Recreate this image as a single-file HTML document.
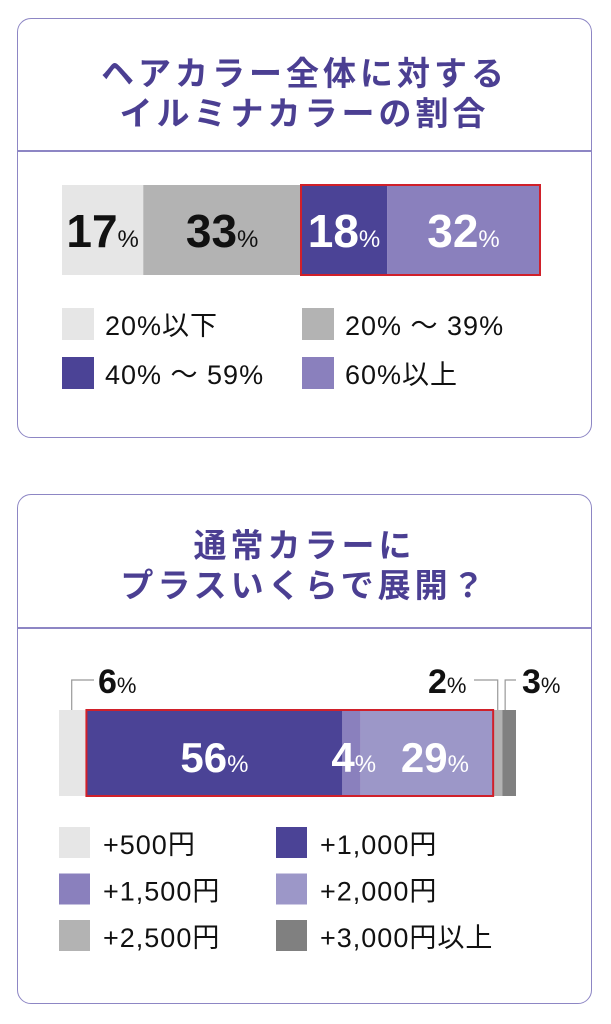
<!DOCTYPE html>
<html><head><meta charset="utf-8"><style>
body{margin:0;width:611px;height:1024px;background:#fff;font-family:"Liberation Sans","Noto Sans CJK JP",sans-serif;position:relative;overflow:hidden}
.card{position:absolute;left:17px;width:575px;border:1.5px solid #8d86c4;border-radius:14px;box-sizing:border-box}
.title{position:absolute;left:0;width:100%;text-align:center;color:#4b3f92;font-weight:bold;font-size:33px;letter-spacing:4px;line-height:40px;font-family:"Noto Sans CJK JP",sans-serif}
.div{position:absolute;left:0;width:100%;height:1.5px;background:#8d86c4}
svg{position:absolute;left:0;top:0}
</style></head><body>
<div class="card" style="top:18px;height:420px">
 <div class="title" style="top:32px">ヘアカラー全体に対する<br>イルミナカラーの割合</div>
 <div class="div" style="top:131px"></div>
</div>
<div class="card" style="top:494px;height:510px">
 <div class="title" style="top:28px">通常カラーに<br>プラスいくらで展開？</div>
 <div class="div" style="top:132px"></div>
</div>
<svg id="chart" width="611" height="1024"></svg>
<script>
const cats1=["20%以下","20% ～ 39%","40% ～ 59%","60%以上"];
const vals1=[17,33,18,32];
const colors1=["#e6e6e6","#b3b3b3","#4b4396","#8a80bd"];
const textCol1=["#111","#111","#fff","#fff"];
const cats2=["+500円","+1,000円","+1,500円","+2,000円","+2,500円","+3,000円以上"];
const vals2=[6,56,4,29,2,3];
const colors2=["#e6e6e6","#4b4396","#8a80bd","#9c97c8","#b3b3b3","#808080"];
const svg=document.getElementById('chart');
const NS="http://www.w3.org/2000/svg";
function mk(t,a,p){const e=document.createElementNS(NS,t);for(const k in a)e.setAttribute(k,a[k]);(p||svg).appendChild(e);return e;}
function label(x,y,v,fill,big,small,anchor){
 const t=mk('text',{x:x,y:y,'text-anchor':anchor||'middle',fill:fill,'font-weight':'bold','font-size':big,'font-family':'Liberation Sans,sans-serif'});
 
 
 t.textContent=v;
 const s=mk('tspan',{'font-size':small,'font-weight':'normal'},t);s.textContent='%';
 return t;
}
// chart 1
const x1=v=>62+v*4.78;
let acc=0;
vals1.forEach((v,i)=>{
 const r=mk('rect',{x:x1(acc),y:185,width:x1(acc+v)-x1(acc),height:90,fill:colors1[i]});
 
 
 label((x1(acc)+x1(acc+v))/2,247,v,textCol1[i],46,24);
 acc+=v;
});
const hb=mk('rect',{x:x1(vals1[0]+vals1[1]),y:185,width:x1(100)-x1(vals1[0]+vals1[1]),height:90,fill:'none',stroke:'#d0202a','stroke-width':2});


cats1.forEach((c,i)=>{
 const lx=i%2?302:62, ly=308+Math.floor(i/2)*49;
 const s=mk('rect',{x:lx,y:ly,width:32,height:32,fill:colors1[i]});
 
 
 const t=mk('text',{x:lx+43,y:ly+27,'font-size':27,'letter-spacing':1,fill:'#111','font-family':'Liberation Sans,Noto Sans CJK JP,sans-serif'});
 
 
 t.textContent=c;
});
// chart 2
const x2=v=>59+v*4.57;
acc=0;const mids=[];
vals2.forEach((v,i)=>{
 const r=mk('rect',{x:x2(acc),y:710,width:x2(acc+v)-x2(acc),height:86,fill:colors2[i]});
 
 
 mids.push([x2(acc),x2(acc+v)]);
 acc+=v;
});
label((mids[1][0]+mids[1][1])/2,772,vals2[1],'#fff',42,24);
label(mids[2][0]-11,772,vals2[2],'#fff',42,24,'start');
label((mids[3][0]+mids[3][1])/2+8,772,vals2[3],'#fff',42,24);
const hb2=mk('rect',{x:mids[1][0],y:710,width:mids[3][1]-mids[1][0],height:86,fill:'none',stroke:'#d0202a','stroke-width':2});


function leader(px,ex){const l=mk('polyline',{points:`${px},710 ${px},680 ${ex},680`,fill:'none',stroke:'#999','stroke-width':1.2});
 
 }
leader((mids[0][0]+mids[0][1])/2-1,94);label(98,693,vals2[0],'#111',34,22,'start');
leader((mids[4][0]+mids[4][1])/2,474);label(428,693,vals2[4],'#111',34,22,'start');
leader((mids[5][0]+mids[5][1])/2-4,516);label(522,693,vals2[5],'#111',34,22,'start');
cats2.forEach((c,i)=>{
 const lx=i%2?276:59, ly=827+Math.floor(i/2)*46.5;
 const s=mk('rect',{x:lx,y:ly,width:31,height:31,fill:colors2[i]});
 
 
 const t=mk('text',{x:lx+44,y:ly+27,'font-size':27,'letter-spacing':1,fill:'#111','font-family':'Liberation Sans,Noto Sans CJK JP,sans-serif'});
 
 
 t.textContent=c;
});
</script>
</body></html>
